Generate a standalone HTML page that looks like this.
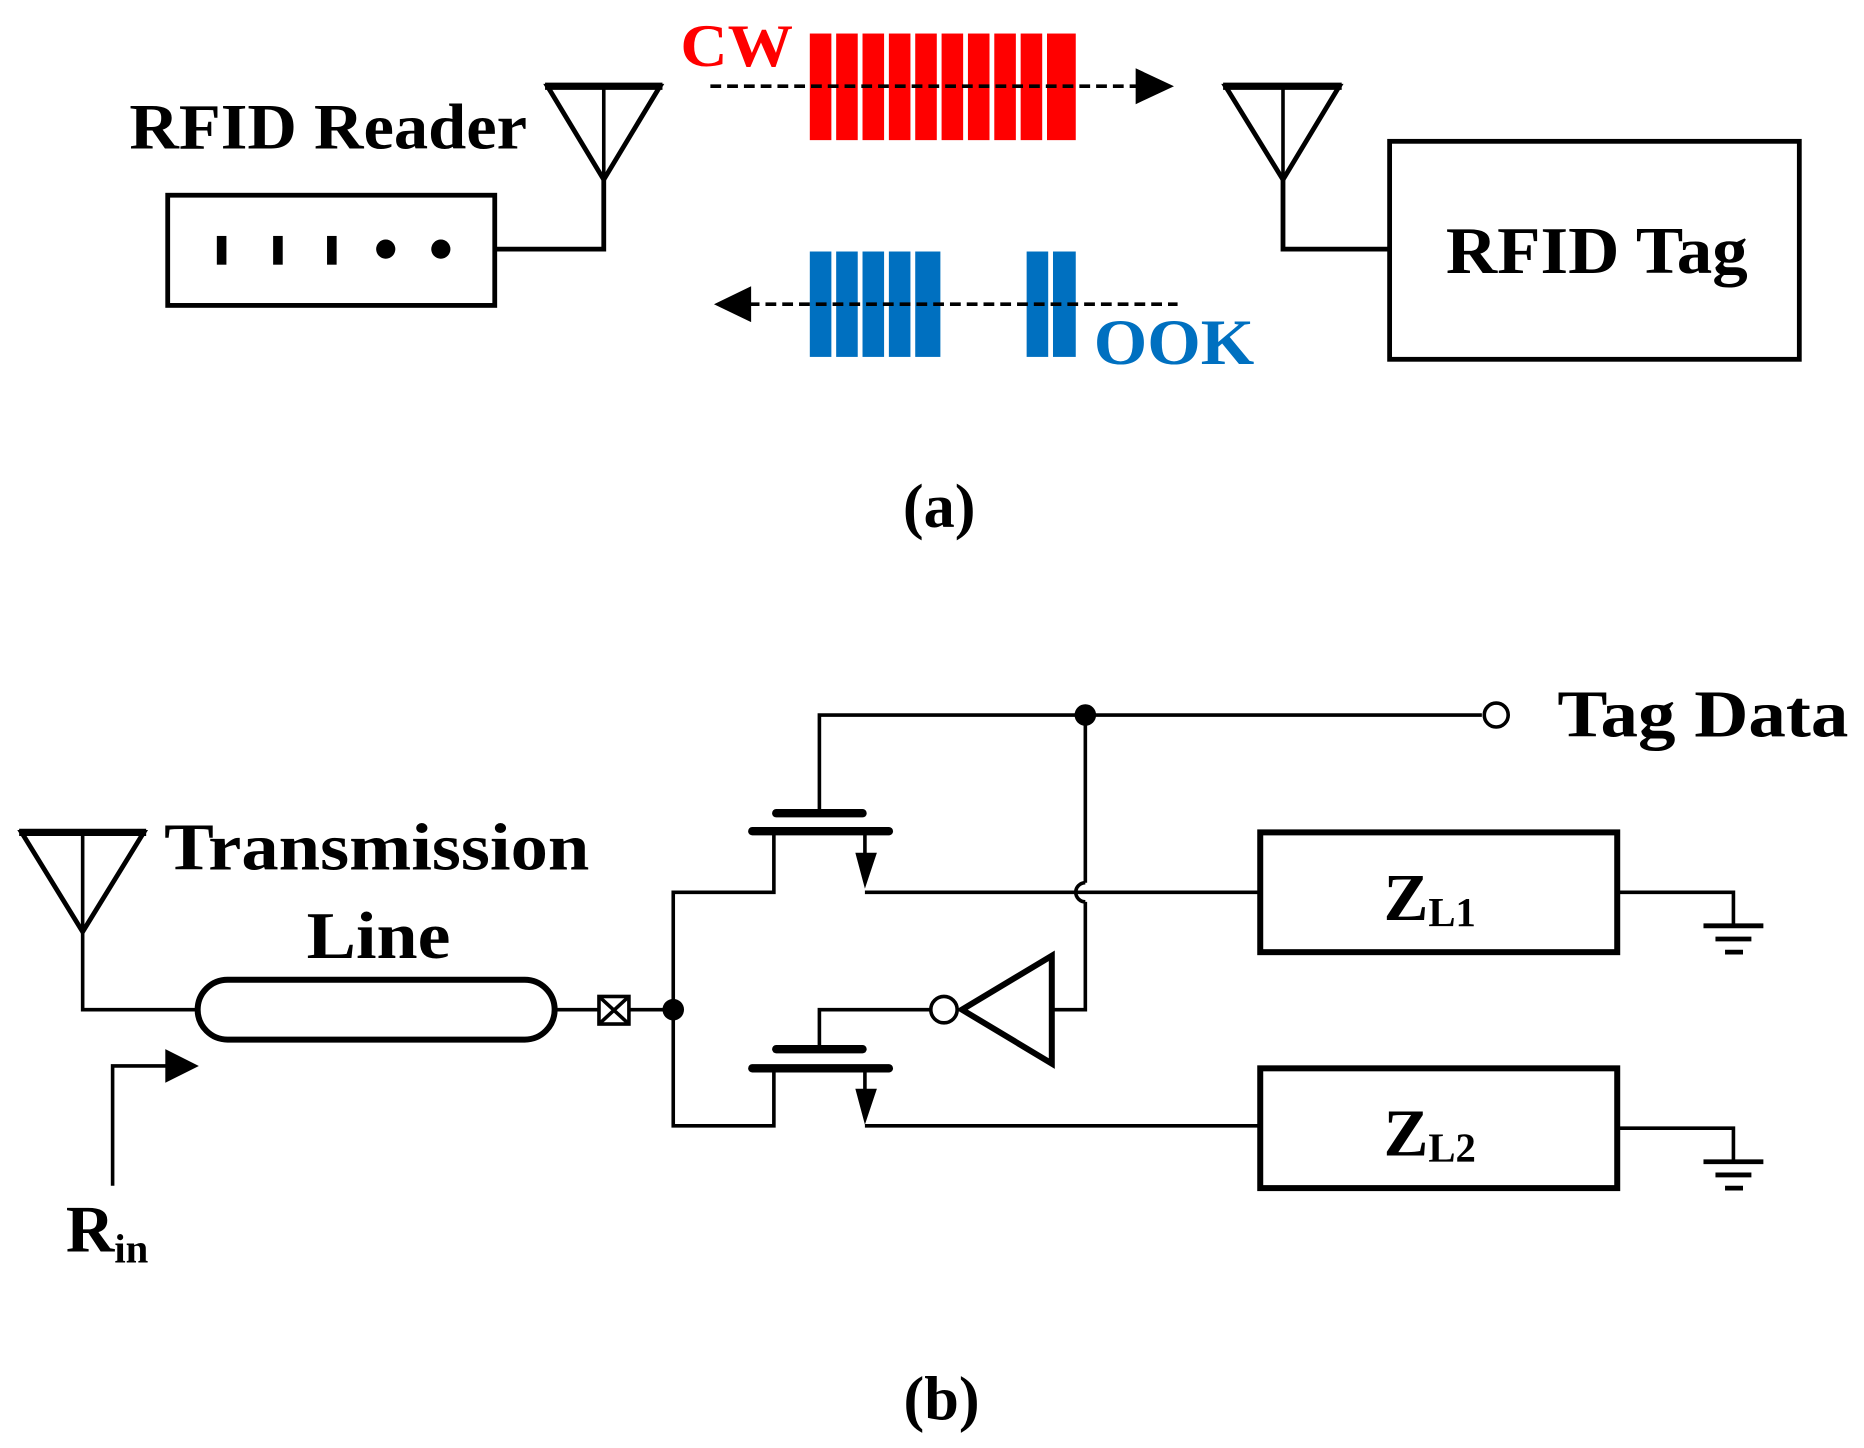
<!DOCTYPE html>
<html><head><meta charset="utf-8"><style>
html,body{margin:0;padding:0;background:#fff;}
svg{display:block;}
text{font-family:"Liberation Serif",serif;font-weight:bold;}
</style></head><body>
<svg width="1864" height="1448" viewBox="0 0 1556 1209" preserveAspectRatio="none" xmlns="http://www.w3.org/2000/svg">
<rect width="1556" height="1209" fill="#fff"/>
<g stroke="#000" fill="none" stroke-width="4">
<rect x="140" y="163" width="273" height="92"/>
<polyline points="413,208 504,208 504,150"/>
<polygon points="457,72 551,72 504,150"/>
<line x1="504" y1="72" x2="504" y2="150" stroke-width="3"/>
<line x1="455" y1="72" x2="553" y2="72" stroke-width="6"/>
<rect x="1160" y="118" width="342" height="182"/>
<polyline points="1160,208 1071,208 1071,150"/>
<polygon points="1023,72 1118,72 1071,150"/>
<line x1="1071" y1="72" x2="1071" y2="150" stroke-width="3"/>
<line x1="1021" y1="72" x2="1120" y2="72" stroke-width="6"/>
</g>
<g fill="#000">
<rect x="181" y="197" width="8" height="24"/><rect x="228" y="197" width="8" height="24"/><rect x="273" y="197" width="8" height="24"/>
<circle cx="322" cy="208" r="8"/><circle cx="368" cy="208" r="8"/>
</g>
<g fill="#ff0000">
<rect x="676" y="28" width="18" height="89"/><rect x="698" y="28" width="18" height="89"/><rect x="720" y="28" width="18" height="89"/><rect x="742" y="28" width="18" height="89"/><rect x="764" y="28" width="18" height="89"/><rect x="786" y="28" width="18" height="89"/><rect x="808" y="28" width="18" height="89"/><rect x="830" y="28" width="18" height="89"/><rect x="852" y="28" width="18" height="89"/><rect x="874" y="28" width="24" height="89"/>
</g>
<line x1="593" y1="72" x2="950" y2="72" stroke="#000" stroke-width="3" stroke-dasharray="9,5"/>
<polygon points="948,57 980,72 948,87" fill="#000"/>
<text x="568" y="55" font-size="50" fill="#ff0000" textLength="94" lengthAdjust="spacingAndGlyphs">CW</text>
<g fill="#0070c0">
<rect x="676" y="210" width="18" height="88"/><rect x="698" y="210" width="18" height="88"/><rect x="720" y="210" width="18" height="88"/><rect x="742" y="210" width="18" height="88"/><rect x="764" y="210" width="21" height="88"/>
<rect x="857" y="210" width="18" height="88"/><rect x="879" y="210" width="19" height="88"/>
</g>
<line x1="625" y1="254" x2="983" y2="254" stroke="#000" stroke-width="3" stroke-dasharray="9,5"/>
<polygon points="627,239 596,254 627,269" fill="#000"/>
<text x="913" y="304" font-size="54" fill="#0070c0" textLength="134" lengthAdjust="spacingAndGlyphs">OOK</text>
<text x="108" y="124" font-size="54" textLength="332" lengthAdjust="spacingAndGlyphs">RFID Reader</text>
<text x="1207" y="228" font-size="56" textLength="252" lengthAdjust="spacingAndGlyphs">RFID Tag</text>
<text x="784" y="440" font-size="52" text-anchor="middle">(a)</text>

<g stroke="#000" fill="none" stroke-width="3">
<polygon points="18,695 120,695 69,778" stroke-width="4"/>
<line x1="69" y1="695" x2="69" y2="778"/>
<line x1="16" y1="695" x2="122" y2="695" stroke-width="6"/>
<polyline points="69,778 69,843 165,843"/>
<rect x="165" y="818" width="298" height="50" rx="25" stroke-width="5"/>
<line x1="463" y1="843" x2="500" y2="843"/>
<rect x="500" y="832" width="25" height="23"/>
<line x1="500" y1="832" x2="525" y2="855"/><line x1="525" y1="832" x2="500" y2="855"/>
<line x1="525" y1="843" x2="562" y2="843"/>
<polyline points="646,694 646,745 562,745 562,940 646,940 646,892"/>
<line x1="628" y1="694" x2="742" y2="694" stroke-width="7" stroke-linecap="round"/>
<line x1="648" y1="679" x2="720" y2="679" stroke-width="7" stroke-linecap="round"/>
<polyline points="684,679 684,597 1237,597"/>
<line x1="722" y1="694" x2="722" y2="715"/>
<line x1="722" y1="745" x2="1052" y2="745"/>
<line x1="906" y1="597" x2="906" y2="737"/>
<path d="M906,737 A8,8 0 0 0 906,753"/>
<polyline points="906,753 906,843 878,843"/>
<polygon points="878,798 878,888 803,843" stroke-width="5"/>
<circle cx="788" cy="843" r="11"/>
<polyline points="777,843 684,843 684,876"/>
<line x1="648" y1="876" x2="720" y2="876" stroke-width="7" stroke-linecap="round"/>
<line x1="628" y1="892" x2="742" y2="892" stroke-width="7" stroke-linecap="round"/>
<line x1="722" y1="892" x2="722" y2="912"/>
<line x1="722" y1="940" x2="1052" y2="940"/>
<circle cx="1249" cy="597" r="10"/>
<rect x="1052" y="695" width="298" height="100" stroke-width="5"/>
<rect x="1052" y="892" width="298" height="100" stroke-width="5"/>
<polyline points="1350,745 1447,745 1447,773"/>
<polyline points="1350,942 1447,942 1447,970"/>
<g stroke-width="4">
<line x1="1422" y1="773" x2="1472" y2="773"/><line x1="1432" y1="784" x2="1462" y2="784"/><line x1="1440" y1="795" x2="1455" y2="795"/>
<line x1="1422" y1="970" x2="1472" y2="970"/><line x1="1432" y1="981" x2="1462" y2="981"/><line x1="1440" y1="992" x2="1455" y2="992"/>
</g>
<polyline points="94,990 94,890 140,890"/>
</g>
<g fill="#000">
<circle cx="562" cy="843" r="9"/>
<circle cx="906" cy="597" r="9"/>
<polygon points="714,712 732,712 722,742"/>
<polygon points="714,909 732,909 722,939"/>
<polygon points="138,876 166,890 138,904"/>
</g>
<text x="137" y="726" font-size="56" textLength="355" lengthAdjust="spacingAndGlyphs">Transmission</text>
<text x="256" y="800" font-size="56" textLength="120" lengthAdjust="spacingAndGlyphs">Line</text>
<text x="1300" y="615" font-size="56" textLength="243" lengthAdjust="spacingAndGlyphs">Tag Data</text>
<text x="1155" y="768" font-size="56">Z<tspan font-size="34" dy="5">L1</tspan></text>
<text x="1155" y="965" font-size="56">Z<tspan font-size="34" dy="5">L2</tspan></text>
<text x="55" y="1045" font-size="56">R<tspan font-size="34" dy="9">in</tspan></text>
<text x="786" y="1185" font-size="52" text-anchor="middle">(b)</text>
</svg>
</body></html>
